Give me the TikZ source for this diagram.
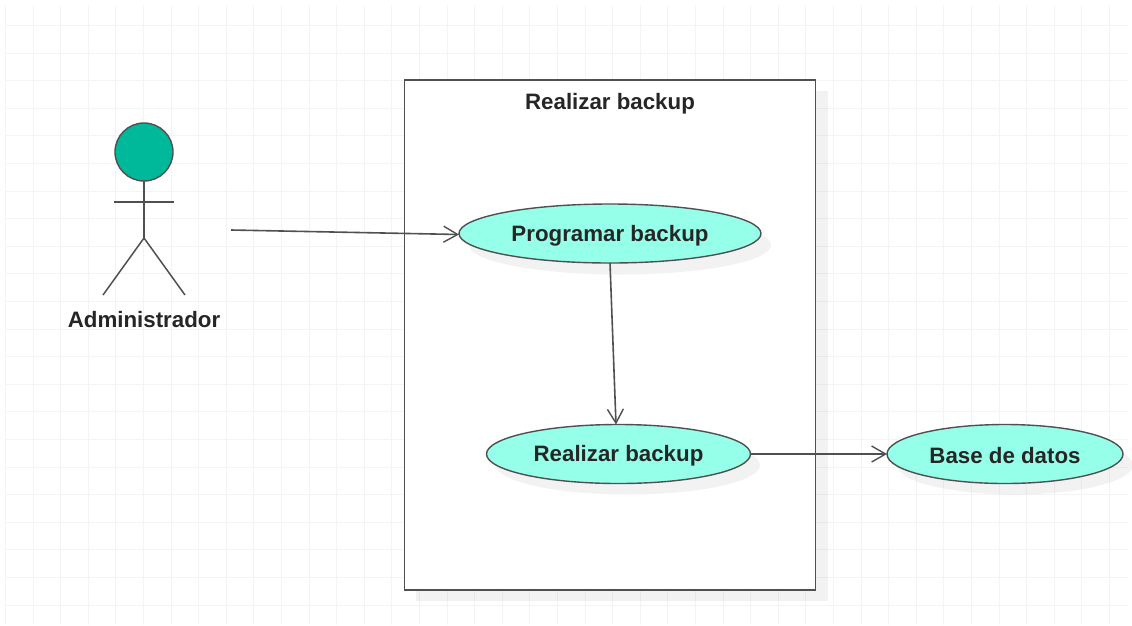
\documentclass[tikz,border=0pt]{standalone}
\usepackage{fontspec}
\setmainfont{Liberation Sans}
\usetikzlibrary{arrows.meta,shapes.geometric}
\definecolor{gridc}{HTML}{F4F4F4}
\definecolor{usecase}{HTML}{96FFE9}
\definecolor{actorc}{HTML}{00B89A}
\definecolor{linec}{HTML}{505050}
\definecolor{textc}{HTML}{262626}
\tikzset{
  x=1pt,y=-1pt,
  label text/.style={font=\fontsize{22.3}{26}\selectfont\bfseries,text=textc},
  conn/.style={draw=linec,line width=1.6pt,-{Straight Barb[length=14pt,width=16pt,line width=1.4pt]}},
  limb/.style={draw=linec,line width=1.5pt},
  softshadow/.style={fill=black,fill opacity=0.05},
  ellipse node/.style={shape=ellipse,draw=linec,line width=1.4pt,fill=usecase,inner sep=0pt,outer sep=0pt},
}
\begin{document}
\begin{tikzpicture}
\useasboundingbox (0,0) rectangle (1132,625);
\fill[white] (0,0) rectangle (1132,625);
% grid, snapped to whole pixels
\foreach \i in {0,...,40}{
  \pgfmathsetmacro{\gx}{round(5+27.6*\i)+0.5}
  \draw[gridc,line width=1.5pt] (\gx,6) -- (\gx,625);
}
\foreach \j in {0,...,21}{
  \pgfmathsetmacro{\gy}{round(25+27.6*\j)+0.5}
  \draw[gridc,line width=1.5pt] (5,\gy) -- (1128,\gy);
}
% boundary shadow
\fill[softshadow] (416,91) rectangle (828,601);
% boundary
\node[draw=linec,line width=1.8pt,fill=white,minimum width=411pt,minimum height=510pt,inner sep=0pt,outer sep=0pt] (sys) at (610,335) {};
\node[label text,inner sep=0pt] (systitle) at (610,104) {Realizar backup};
% use case shadows
\fill[softshadow] (620,245) ellipse [x radius=151,y radius=29.5];
\fill[softshadow] (628,465) ellipse [x radius=132,y radius=29.5];
\fill[softshadow] (1015,465) ellipse [x radius=118,y radius=29.5];
% use cases
\node[ellipse node,minimum width=302pt,minimum height=59pt] (prog) at (610,233.5) {};
\node[ellipse node,minimum width=264pt,minimum height=59pt] (real) at (618.5,454) {};
\node[ellipse node,minimum width=236pt,minimum height=59pt] (base) at (1005,454) {};
\node[label text,inner sep=0pt] (progt) at (610,236) {Programar backup};
\node[label text,inner sep=0pt] (realt) at (618.5,456) {Realizar backup};
\node[label text,inner sep=0pt] (baset) at (1005,455.5) {Base de datos};
% actor
\node[shape=circle,draw=linec,line width=1.4pt,fill=actorc,minimum size=58pt,inner sep=0pt,outer sep=0pt] (head) at (144,152) {};
\coordinate (hip) at (144,238);
\coordinate (armL) at (114,202);
\coordinate (armR) at (174,202);
\coordinate (footL) at (103,295);
\coordinate (footR) at (185,295);
\draw[limb] (head.south) -- (hip);
\draw[limb] (armL) -- (armR);
\draw[limb] (footL) -- (hip) -- (footR);
\node[label text,inner sep=0pt] (admin) at (144,319.5) {Administrador};
% connectors
\coordinate (start) at (231,230);
\draw[conn] (start) -- ([yshift=-1pt]prog.west);
\draw[conn] (prog.south) -- ([xshift=-2.5pt]real.north);
\draw[conn] (real.east) -- (base.west);
\end{tikzpicture}
\end{document}
